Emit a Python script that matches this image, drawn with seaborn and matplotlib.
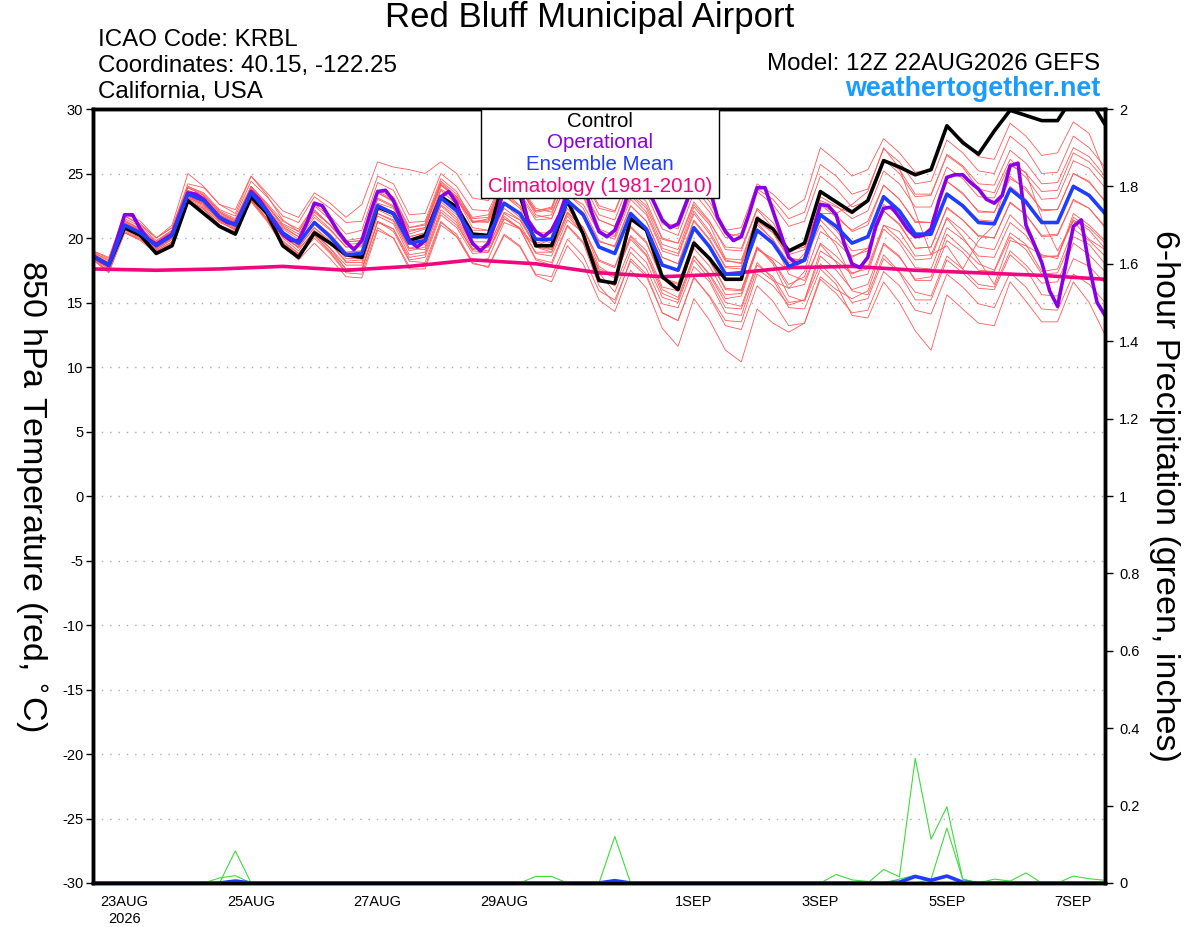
import numpy as np
import pandas as pd
import matplotlib
matplotlib.use('Agg')
import matplotlib.pyplot as plt
import seaborn as sns
from matplotlib.patches import Rectangle
from matplotlib.ticker import FuncFormatter

# forecast hours from 22AUG2026 12Z
hours = list(range(0, 385, 6))
hours_op = list(range(0, 385, 3))
clim_hours = list(range(0, 385, 24))

tick_hours = [12, 60, 108, 156, 228, 276, 324, 372]
tick_labels = ['23AUG\n2026', '25AUG', '27AUG', '29AUG', '1SEP', '3SEP', '5SEP', '7SEP']

# 850 hPa temperature (C)
control = [18.6, 17.9, 20.8, 20.2, 18.8, 19.4, 22.9, 21.9, 20.9, 20.3,
           23.2, 21.9, 19.4, 18.5, 20.4, 19.6, 18.7, 18.5, 22.4, 21.9,
           19.8, 20.2, 23.2, 22.4, 20.3, 20.2, 24.6, 23.3, 19.4, 19.4,
           22.9, 20.3, 16.7, 16.5, 21.5, 20.6, 17.0, 16.0, 19.6, 18.4,
           16.8, 16.8, 21.5, 20.7, 19.0, 19.6, 23.6, 22.8, 22.0, 22.9,
           26.0, 25.5, 24.9, 25.3, 28.7, 27.4, 26.5, 28.3, 29.9, 29.5,
           29.1, 29.1, 31.0, 30.8, 28.8]

ens_mean = [18.6, 17.9, 21.0, 20.4, 19.4, 20.2, 23.4, 22.9, 21.6, 21.0,
            23.5, 22.1, 20.4, 19.6, 21.2, 20.1, 18.7, 18.8, 22.5, 21.9,
            19.6, 19.8, 23.1, 22.1, 20.1, 20.1, 22.7, 21.9, 19.9, 19.9,
            22.9, 21.8, 19.3, 18.8, 21.9, 20.7, 17.9, 17.5, 20.8, 19.3,
            17.2, 17.2, 20.6, 19.6, 17.8, 18.3, 21.8, 20.9, 19.6, 20.1,
            23.2, 22.1, 20.3, 20.3, 23.4, 22.5, 21.2, 21.1, 23.8, 22.8,
            21.2, 21.2, 24.0, 23.3, 21.9]

operational = [18.6, 18.2, 17.9, 19.8, 21.8, 21.8, 20.7, 19.9, 19.5, 19.9,
               20.3, 21.9, 23.5, 23.4, 23.0, 22.3, 21.6, 21.2, 21.1, 22.3,
               23.6, 23.0, 22.1, 21.1, 20.3, 19.8, 19.8, 21.1, 22.7, 22.5,
               21.5, 20.5, 19.7, 19.1, 19.8, 21.8, 23.6, 23.7, 22.9, 21.4,
               19.8, 19.3, 19.8, 21.6, 23.2, 23.6, 22.7, 20.9, 19.6, 19.0,
               19.6, 21.4, 24.0, 25.2, 23.8, 21.4, 20.5, 20.1, 20.6, 21.8,
               23.6, 25.0, 24.5, 22.1, 20.5, 20.1, 20.6, 22.1, 24.2, 25.0,
               24.0, 22.7, 21.4, 20.8, 21.1, 22.7, 24.3, 25.0, 23.8, 21.6,
               20.5, 19.8, 20.1, 21.9, 23.9, 23.9, 22.1, 20.3, 18.5, 18.0,
               18.3, 20.3, 22.6, 22.5, 21.8, 19.6, 18.0, 17.7, 18.5, 20.9,
               22.3, 22.4, 21.6, 20.7, 20.1, 20.2, 20.7, 22.9, 24.7, 24.9,
               24.9, 24.3, 23.8, 23.0, 22.7, 23.3, 25.6, 25.8, 21.0, 19.6,
               18.1, 15.9, 14.7, 17.8, 20.9, 21.4, 17.8, 15.0, 14.0]

climatology = [17.6, 17.5, 17.6, 17.8, 17.5, 17.8, 18.3, 18.0, 17.3,
               17.0, 17.2, 17.7, 17.8, 17.5, 17.3, 17.1, 16.8]

# GEFS perturbation members
mem01 = [18.8, 18.0, 21.4, 20.7, 19.7, 20.5, 23.9, 23.3, 22.0, 21.3, 24.0, 22.6, 21.0, 20.3, 22.1, 21.0,
         19.7, 19.8, 23.6, 23.0, 20.8, 21.0, 24.3, 23.2, 21.5, 21.6, 24.6, 23.8, 22.0, 22.2, 25.4, 24.3,
         21.8, 21.4, 24.6, 23.4, 20.7, 20.2, 23.5, 22.0, 20.0, 20.4, 23.8, 23.0, 21.5, 22.0, 25.7, 24.8,
         23.4, 23.8, 26.9, 25.9, 24.2, 24.4, 27.6, 26.6, 25.2, 25.0, 27.9, 26.9, 25.0, 25.1, 27.9, 27.0, 25.5]
mem02 = [18.5, 17.6, 20.6, 20.0, 19.0, 19.7, 22.8, 22.3, 21.0, 20.5, 22.9, 21.4, 19.6, 18.7, 20.2, 19.0,
         17.6, 17.6, 21.3, 20.5, 18.2, 18.1, 21.3, 20.1, 18.0, 17.8, 20.3, 19.4, 17.2, 17.0, 19.9, 18.6,
         15.9, 15.2, 18.2, 17.0, 14.2, 13.6, 17.0, 15.4, 13.2, 12.9, 16.3, 15.1, 13.2, 13.4, 16.8, 15.7,
         14.2, 14.4, 17.4, 16.3, 14.4, 14.1, 17.2, 16.2, 14.9, 14.6, 17.3, 16.2, 14.5, 14.4, 17.2, 16.4, 15.0]
mem03 = [18.6, 18.1, 21.2, 20.5, 19.5, 20.0, 23.1, 22.6, 21.3, 20.6, 23.0, 21.5, 19.6, 18.6, 20.0, 18.8,
         17.3, 17.2, 20.8, 20.0, 17.8, 17.8, 21.2, 20.3, 18.1, 17.7, 20.2, 19.3, 17.1, 16.6, 19.4, 18.0,
         15.2, 14.3, 17.5, 16.1, 13.0, 11.6, 15.3, 13.6, 11.3, 10.4, 14.5, 13.4, 12.7, 13.4, 17.0, 16.0,
         15.3, 15.9, 19.5, 18.5, 16.8, 17.0, 20.3, 19.2, 18.0, 17.5, 20.4, 19.5, 17.4, 17.6, 20.7, 19.8, 18.6]
mem04 = [18.7, 18.0, 21.3, 20.6, 19.5, 20.4, 23.6, 23.0, 21.8, 21.2, 23.6, 22.2, 20.1, 19.3, 20.8, 19.6,
         18.2, 18.3, 21.9, 21.4, 19.2, 19.1, 22.6, 21.6, 19.4, 19.3, 21.9, 21.1, 18.8, 18.6, 21.4, 20.4,
         17.5, 16.9, 20.1, 18.7, 16.0, 15.4, 18.6, 17.1, 15.0, 14.7, 18.1, 16.8, 14.6, 14.5, 17.6, 16.4,
         14.0, 13.8, 16.6, 15.0, 12.8, 11.3, 15.6, 14.5, 13.4, 13.2, 16.6, 15.1, 13.5, 13.5, 16.6, 15.0, 12.5]
mem05 = [18.9, 18.3, 21.7, 21.1, 20.0, 20.8, 24.2, 23.9, 22.6, 22.2, 24.8, 23.5, 22.1, 21.6, 23.5, 22.7,
         21.6, 22.6, 25.9, 25.5, 25.3, 25.0, 25.9, 25.0, 23.1, 22.9, 25.0, 24.0, 22.3, 22.0, 24.6, 23.4,
         21.4, 20.9, 23.6, 22.5, 19.9, 19.6, 22.6, 21.2, 19.3, 19.2, 22.3, 21.2, 19.0, 19.3, 22.6, 21.6,
         20.6, 21.3, 24.1, 23.0, 21.3, 21.2, 24.4, 23.5, 22.0, 22.0, 24.6, 23.9, 22.1, 22.2, 25.0, 24.4, 22.8]
mem06 = [18.5, 17.8, 20.8, 20.3, 19.2, 20.1, 23.1, 22.7, 21.4, 20.8, 23.3, 21.9, 20.3, 19.4, 21.3, 20.3,
         18.9, 19.0, 22.7, 22.3, 20.1, 20.4, 23.8, 23.0, 21.2, 21.5, 24.4, 23.8, 22.1, 22.3, 25.6, 24.7,
         22.3, 22.0, 25.1, 23.9, 21.2, 20.9, 24.1, 22.8, 20.6, 20.8, 24.2, 23.4, 22.2, 23.0, 27.0, 26.0,
         24.8, 25.3, 27.7, 26.6, 25.1, 25.3, 28.5, 27.6, 26.3, 26.1, 28.9, 27.9, 26.4, 26.6, 29.0, 28.1, 25.0]
mem07 = [18.5, 17.7, 20.9, 20.3, 19.2, 20.0, 23.2, 22.8, 21.4, 20.7, 23.2, 21.8, 20.0, 19.0, 20.6, 19.6,
         18.1, 18.1, 21.9, 21.3, 19.0, 19.3, 22.5, 21.4, 19.2, 19.0, 21.7, 20.7, 18.3, 17.9, 20.9, 19.6,
         16.3, 14.9, 18.4, 17.2, 14.2, 13.6, 16.9, 15.5, 13.6, 13.5, 17.2, 16.3, 14.8, 15.2, 19.0, 18.2,
         17.2, 17.8, 21.0, 19.9, 18.3, 18.4, 21.6, 20.6, 19.3, 19.1, 21.8, 20.6, 18.6, 18.6, 21.6, 20.8, 19.6]
mem08 = [18.9, 18.2, 21.5, 20.9, 19.8, 20.6, 23.9, 23.3, 22.0, 21.4, 23.9, 22.5, 20.9, 20.1, 21.8, 20.7,
         19.3, 19.3, 23.0, 22.4, 20.1, 20.4, 23.7, 22.6, 20.6, 20.6, 23.3, 22.5, 20.4, 20.4, 23.4, 22.3,
         19.8, 19.3, 22.5, 21.3, 18.5, 18.0, 21.4, 19.9, 17.8, 17.8, 21.3, 20.4, 18.8, 19.6, 23.2, 22.5,
         21.5, 22.1, 25.2, 24.2, 22.4, 22.4, 25.5, 24.6, 23.2, 23.1, 25.8, 24.7, 23.0, 23.1, 26.0, 25.4, 23.9]
mem09 = [18.4, 17.4, 20.5, 19.9, 19.0, 19.7, 22.9, 22.4, 21.2, 20.7, 23.1, 21.8, 20.1, 19.3, 20.8, 19.8,
         18.4, 18.4, 22.2, 21.6, 19.2, 19.5, 22.8, 21.8, 19.7, 19.7, 22.3, 21.4, 19.3, 19.1, 22.0, 20.8,
         18.2, 17.7, 20.8, 19.6, 16.8, 16.4, 19.7, 18.2, 16.0, 15.9, 19.3, 18.2, 16.1, 16.4, 19.6, 18.6,
         17.3, 17.6, 20.7, 19.6, 17.7, 17.6, 20.8, 19.9, 18.6, 18.5, 21.2, 20.2, 18.5, 18.6, 21.4, 20.6, 19.2]
mem10 = [18.7, 17.9, 21.1, 20.5, 19.5, 20.3, 23.5, 23.1, 21.8, 21.2, 23.8, 22.5, 21.1, 20.5, 22.6, 21.7,
         20.3, 20.6, 24.3, 23.7, 21.2, 21.3, 24.6, 23.6, 21.3, 21.2, 23.6, 22.5, 20.0, 19.6, 22.3, 20.8,
         17.8, 17.0, 19.9, 18.6, 15.7, 15.2, 18.6, 17.2, 15.3, 15.5, 19.1, 18.4, 17.5, 18.8, 22.9, 22.4,
         21.9, 22.9, 26.1, 25.3, 23.4, 23.4, 26.4, 25.5, 23.8, 23.5, 26.1, 25.0, 23.6, 23.7, 26.6, 25.9, 24.5]
mem11 = [18.4, 17.6, 20.7, 20.1, 19.1, 19.9, 23.0, 22.5, 21.4, 20.9, 23.5, 22.2, 20.7, 19.9, 21.6, 20.6,
         19.3, 19.4, 23.1, 22.5, 20.3, 20.7, 24.1, 23.2, 21.2, 21.3, 24.0, 23.3, 21.4, 21.5, 24.5, 23.3,
         20.7, 20.2, 23.3, 22.0, 19.2, 18.8, 22.1, 20.5, 18.3, 18.0, 21.2, 19.8, 17.2, 16.7, 19.5, 18.1,
         15.9, 15.6, 18.7, 17.4, 15.8, 15.5, 18.6, 17.6, 16.4, 16.2, 19.0, 17.9, 16.5, 16.6, 19.6, 18.7, 17.4]
mem12 = [19.0, 18.4, 21.7, 21.0, 20.0, 20.8, 24.0, 23.4, 22.1, 21.5, 24.0, 22.4, 20.2, 19.2, 20.4, 19.2,
         17.6, 17.5, 21.2, 20.7, 18.5, 18.7, 22.0, 21.0, 19.1, 19.3, 22.0, 21.4, 19.6, 19.9, 23.0, 22.0,
         19.7, 19.4, 22.5, 21.3, 18.5, 18.0, 21.3, 19.8, 17.7, 17.6, 21.0, 19.9, 18.1, 18.4, 21.7, 20.6,
         19.0, 19.2, 22.1, 21.0, 19.2, 19.3, 22.4, 21.4, 20.1, 20.0, 22.7, 21.8, 20.2, 20.3, 23.0, 22.3, 20.8]
mem13 = [18.3, 17.4, 20.4, 19.8, 18.8, 19.6, 22.8, 22.3, 21.0, 20.4, 22.8, 21.3, 19.4, 18.3, 19.6, 18.4,
         17.0, 16.9, 20.6, 20.0, 17.6, 17.6, 21.0, 20.1, 18.2, 18.4, 21.2, 20.7, 19.4, 19.9, 23.3, 22.6,
         20.4, 20.1, 23.4, 22.3, 19.5, 19.1, 22.4, 21.0, 18.4, 18.3, 21.7, 20.6, 18.7, 19.1, 22.7, 21.8,
         20.5, 21.0, 24.1, 23.0, 21.2, 21.2, 24.4, 23.4, 22.1, 22.0, 24.8, 23.7, 22.2, 22.2, 25.0, 24.3, 22.9]
mem14 = [18.6, 17.9, 21.0, 20.3, 19.4, 20.3, 23.4, 22.9, 21.7, 21.1, 23.7, 22.3, 20.8, 20.1, 22.0, 21.0,
         19.7, 19.8, 23.5, 22.9, 20.6, 20.8, 24.1, 23.1, 20.8, 20.6, 23.3, 22.3, 19.6, 19.1, 21.9, 20.4,
         17.3, 15.8, 18.9, 17.6, 14.9, 14.6, 17.8, 16.6, 14.2, 14.0, 17.6, 16.7, 16.1, 17.4, 21.9, 21.9,
         22.6, 23.6, 27.0, 25.4, 22.0, 18.7, 19.4, 17.6, 19.8, 21.0, 25.6, 25.1, 21.5, 19.0, 21.3, 19.9, 19.1]
mem15 = [18.8, 18.1, 21.3, 20.7, 19.7, 20.6, 24.0, 23.5, 22.2, 21.7, 24.4, 23.2, 21.7, 21.2, 23.2, 22.3,
         21.2, 21.3, 24.8, 24.2, 21.8, 21.9, 25.0, 24.0, 22.2, 22.1, 24.7, 23.9, 21.8, 21.5, 24.4, 23.2,
         20.4, 19.9, 23.0, 21.8, 19.0, 18.6, 21.9, 20.3, 18.2, 18.1, 21.5, 20.4, 18.4, 18.3, 21.0, 19.4,
         16.9, 17.2, 21.0, 20.5, 18.6, 18.7, 21.5, 20.1, 18.3, 16.4, 19.8, 19.4, 18.7, 18.4, 21.9, 21.0, 19.8]
mem16 = [18.5, 17.7, 20.8, 20.2, 19.1, 19.9, 23.1, 22.6, 21.4, 20.9, 23.5, 22.2, 20.4, 19.6, 21.3, 20.2,
         18.9, 19.0, 22.6, 22.0, 19.8, 20.0, 23.3, 22.3, 20.2, 20.1, 22.6, 21.6, 19.3, 18.9, 21.7, 20.3,
         17.6, 17.1, 20.2, 19.0, 16.2, 15.9, 19.2, 17.8, 15.6, 15.7, 19.2, 18.2, 16.4, 17.0, 20.5, 19.7,
         18.5, 19.2, 22.6, 21.7, 20.0, 20.2, 23.5, 22.6, 21.4, 21.3, 24.0, 23.0, 21.2, 21.3, 24.1, 23.4, 22.0]
mem17 = [19.0, 18.5, 21.9, 21.3, 20.0, 21.0, 25.0, 24.0, 22.6, 21.9, 24.8, 23.3, 21.4, 20.5, 22.2, 21.0,
         19.5, 19.6, 23.5, 22.8, 20.5, 20.8, 24.2, 23.1, 21.3, 21.4, 24.2, 23.5, 21.6, 21.8, 24.9, 23.8,
         21.4, 20.9, 24.0, 22.8, 20.0, 19.6, 22.8, 21.3, 19.1, 19.0, 22.2, 20.8, 18.4, 18.3, 21.4, 20.1,
         18.6, 19.0, 22.1, 21.1, 19.2, 19.3, 22.3, 21.4, 20.2, 20.0, 22.8, 21.8, 20.1, 20.2, 22.9, 22.3, 20.9]
mem18 = [18.3, 17.3, 20.4, 19.9, 18.9, 19.6, 22.7, 22.2, 20.9, 20.4, 22.9, 21.5, 19.7, 18.8, 20.3, 19.2,
         17.9, 17.9, 21.7, 21.1, 18.7, 18.9, 22.2, 21.2, 19.0, 18.9, 21.5, 20.7, 18.4, 18.1, 21.0, 19.7,
         16.9, 16.3, 19.3, 18.1, 15.4, 15.0, 18.3, 16.8, 14.6, 14.5, 17.9, 17.0, 15.0, 15.2, 18.6, 17.5,
         16.0, 16.4, 19.6, 18.6, 16.7, 16.7, 19.8, 18.9, 17.5, 17.4, 20.1, 19.1, 17.2, 17.3, 20.1, 19.5, 18.0]
mem19 = [18.7, 18.0, 21.2, 20.6, 19.6, 20.4, 23.7, 23.2, 21.9, 21.3, 24.0, 22.7, 21.3, 20.7, 22.5, 21.4,
         19.8, 20.0, 23.7, 23.2, 20.8, 21.1, 24.4, 23.4, 21.6, 21.8, 24.7, 24.0, 22.1, 22.4, 25.6, 24.8,
         22.5, 22.1, 25.1, 24.0, 21.1, 20.7, 24.0, 22.4, 20.3, 20.2, 23.6, 22.6, 20.9, 21.3, 24.8, 23.8,
         22.4, 22.9, 26.1, 25.0, 23.2, 23.3, 26.5, 25.6, 24.2, 24.1, 26.8, 25.8, 24.2, 24.3, 27.0, 26.3, 24.8]
mem20 = [18.5, 17.8, 20.9, 20.3, 19.3, 20.0, 23.2, 22.7, 21.3, 20.6, 23.0, 21.5, 19.8, 18.8, 20.2, 18.9,
         17.4, 17.5, 21.3, 20.7, 18.3, 18.5, 21.8, 20.8, 18.8, 18.9, 21.5, 20.8, 18.9, 18.9, 22.0, 20.8,
         18.3, 17.8, 20.9, 19.7, 16.9, 16.5, 19.8, 18.3, 16.1, 16.0, 19.3, 18.0, 15.5, 15.1, 18.0, 16.7,
         15.0, 15.3, 18.4, 17.3, 15.2, 15.2, 18.3, 17.3, 16.1, 16.0, 18.7, 17.6, 15.6, 15.5, 18.4, 17.8, 16.5]

members = [mem01, mem02, mem03, mem04, mem05, mem06, mem07, mem08, mem09, mem10,
           mem11, mem12, mem13, mem14, mem15, mem16, mem17, mem18, mem19, mem20]

# 6-hour precipitation (inches): members with rain, as (step index, amount)
wet1_idx = [9, 33, 50, 51, 52, 53, 54, 55]
wet1_val = [0.083, 0.12, 0.035, 0.016, 0.322, 0.113, 0.197, 0.01]
wet2_idx = [8, 9, 53, 54, 55]
wet2_val = [0.013, 0.019, 0.01, 0.142, 0.01]
wet3_idx = [28, 29, 47, 48, 49, 57, 58, 59]
wet3_val = [0.017, 0.017, 0.022, 0.008, 0.004, 0.01, 0.005, 0.026]
wet4_idx = [51, 52, 62, 63, 64]
wet4_val = [0.01, 0.02, 0.018, 0.011, 0.007]
pmean_idx = [9, 33, 51, 52, 53, 54, 55]
pmean_val = [0.005, 0.006, 0.002, 0.017, 0.007, 0.018, 0.002]

# ---- build long tables
df_mem = pd.concat([pd.DataFrame({'hour': hours, 'temp': m, 'member': k})
                    for k, m in enumerate(members)], ignore_index=True)
df_ctl = pd.DataFrame({'hour': hours, 'temp': control})
df_mean = pd.DataFrame({'hour': hours, 'temp': ens_mean})
df_op = pd.DataFrame({'hour': hours_op, 'temp': operational})
df_clim = pd.DataFrame({'hour': clim_hours, 'temp': climatology})

def full_series(idx, val):
    arr = np.zeros(len(hours))
    arr[idx] = val
    return arr

wet = [(wet1_idx, wet1_val), (wet2_idx, wet2_val), (wet3_idx, wet3_val), (wet4_idx, wet4_val)]
df_pcp = pd.concat([pd.DataFrame({'hour': hours, 'pcp': full_series(i, v), 'member': k})
                    for k, (i, v) in enumerate(wet)], ignore_index=True)
df_pmean = pd.DataFrame({'hour': hours, 'pcp': full_series(pmean_idx, pmean_val)})

# ---- style
sns.set_style('white')
plt.rcParams['font.family'] = ['Liberation Sans', 'DejaVu Sans']
plt.rcParams['axes.unicode_minus'] = False
for key in ['text.color', 'axes.labelcolor', 'xtick.color', 'ytick.color']:
    plt.rcParams[key] = 'black'

fig = plt.figure(figsize=(12, 9.27), dpi=100)
ax = fig.add_axes([93 / 1200, 1 - 883 / 927, 1012 / 1200, 774 / 927])
ax2 = ax.twinx()

red = '#ff5a5a'
sns.lineplot(data=df_mem, x='hour', y='temp', units='member', estimator=None,
             color=red, lw=0.6, ax=ax, legend=False)
sns.lineplot(data=df_clim, x='hour', y='temp', color='#f0067f', lw=2.6, ax=ax)
sns.lineplot(data=df_ctl, x='hour', y='temp', color='black', lw=2.6, ax=ax)
sns.lineplot(data=df_op, x='hour', y='temp', color='#8a00e6', lw=2.6, ax=ax)
sns.lineplot(data=df_mean, x='hour', y='temp', color='#1f3cff', lw=2.6, ax=ax)

sns.lineplot(data=df_pcp, x='hour', y='pcp', units='member', estimator=None,
             color='#3ddc3d', lw=0.8, ax=ax2, legend=False)
sns.lineplot(data=df_pmean, x='hour', y='pcp', color='#1f3cff', lw=2.6, ax=ax2)

ax.set_xlim(0, 384)
ax.set_ylim(-30, 30)
ax2.set_ylim(0, 2)
ax.set_yticks(range(-30, 31, 5))
ax2.set_yticks(np.arange(0, 2.01, 0.2))
ax2.yaxis.set_major_formatter(FuncFormatter(lambda v, p: f'{v:g}'))
ax.set_xticks(tick_hours)
ax.set_xticklabels(tick_labels)

for y in range(-25, 30, 5):
    ax.axhline(y, color='#aaaaaa', lw=1, ls=(0, (1, 5)), zorder=0)

for a in (ax, ax2):
    for s in a.spines.values():
        s.set_linewidth(2.5)
        s.set_color('black')
ax.tick_params(axis='y', direction='out', length=5, width=1, labelsize=10.5, pad=2)
ax.tick_params(axis='x', direction='out', length=6, width=1, labelsize=10.5, pad=3)
ax2.tick_params(axis='y', direction='out', length=6, width=1, labelsize=10.5, pad=4)
ax.set_xlabel('')
ax.set_ylabel('850 hPa Temperature (red, $^{\\circ}$C)', fontsize=24.5, rotation=270,
              ha='center', va='center')
ax.yaxis.set_label_coords(-0.062, 0.5)
ax2.set_ylabel('6-hour Precipitation (green, inches)', fontsize=24.5, rotation=270,
               ha='center', va='center')
ax2.yaxis.set_label_coords(1.059, 0.5)

# legend box
x0 = (481 - 93) / 1012
x1 = (719 - 93) / 1012
y0 = (883 - 198) / 774
ax2.add_patch(Rectangle((x0, y0), x1 - x0, 1 - y0, transform=ax2.transAxes,
                        facecolor='white', edgecolor='black', lw=1, zorder=10))
xc = (x0 + x1) / 2
leg = [('Control', 'black'), ('Operational', '#8a00e6'),
       ('Ensemble Mean', '#1f3cff'), ('Climatology (1981-2010)', '#f0067f')]
for k, (txt, col) in enumerate(leg):
    ax2.text(xc, (883 - 121 - 21.8 * k) / 774, txt, color=col, fontsize=14.8,
             ha='center', va='center', transform=ax2.transAxes, zorder=11)

# header text
fig.text(590 / 1200, 1 - 18 / 927, 'Red Bluff Municipal Airport', fontsize=25,
         ha='center', va='center')
fig.text(98 / 1200, 1 - 40 / 927, 'ICAO Code: KRBL', fontsize=17.4, va='center')
fig.text(98 / 1200, 1 - 66 / 927, 'Coordinates: 40.15, -122.25', fontsize=17.4, va='center')
fig.text(98 / 1200, 1 - 92 / 927, 'California, USA', fontsize=17.4, va='center')
fig.text(1100 / 1200, 1 - 64 / 927, 'Model: 12Z 22AUG2026 GEFS', fontsize=17.4,
         ha='right', va='center')
fig.text(1100 / 1200, 1 - 89 / 927, 'weathertogether.net', fontsize=19.4, fontweight='bold',
         color='#1a9cff', ha='right', va='center')

fig.savefig('out.png', dpi=100)
